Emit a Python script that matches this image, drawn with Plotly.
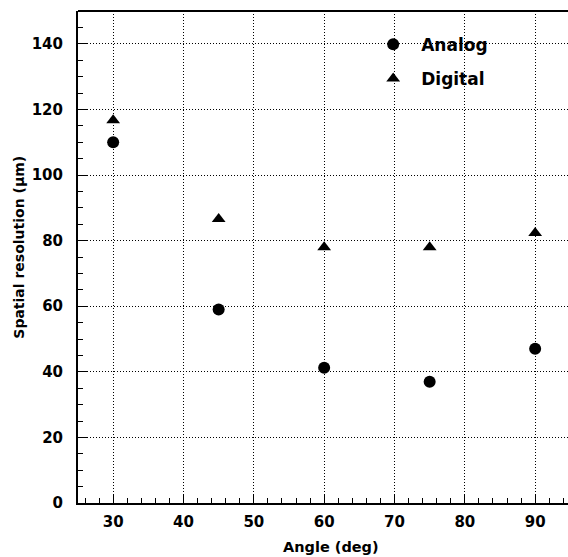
import plotly.graph_objects as go

angles = [30, 45, 60, 75, 90]
analog = [110.0, 59.0, 41.2, 37.0, 47.0]
digital = [116.7, 86.6, 78.0, 78.0, 82.3]

x_range = [25, 94.67]
y_range = [0, 150]

FONT = "DejaVu Sans"

fig = go.Figure()
fig.add_trace(go.Scatter(x=angles, y=analog, mode="markers", name="Analog",
                         legendgroup="a",
                         marker=dict(symbol="circle", size=12, color="black")))
fig.add_trace(go.Scatter(x=angles, y=digital, mode="markers", name="Digital",
                         legendgroup="d",
                         marker=dict(symbol="triangle-up", size=12, color="black")))

axis_common = dict(
    showline=True, linecolor="black", linewidth=2,
    ticks="inside", ticklen=9, tickwidth=1, tickcolor="black",
    showgrid=True, gridcolor="black", gridwidth=1, griddash="1px,2px",
    zeroline=False, mirror=False,
    tickfont=dict(family=FONT, size=15, color="black", weight="bold"),
)

fig.update_xaxes(range=x_range, tickvals=[30, 40, 50, 60, 70, 80, 90],
                 minor=dict(tick0=0, dtick=2, ticks="inside", ticklen=5,
                            tickcolor="black", tickwidth=1, showgrid=False),
                 ticklabelstandoff=4, **axis_common)
fig.update_yaxes(range=y_range, tickvals=[0, 20, 40, 60, 80, 100, 120, 140],
                 minor=dict(tick0=0, dtick=5, ticks="inside", ticklen=5,
                            tickcolor="black", tickwidth=1, showgrid=False),
                 ticklabelstandoff=10, **axis_common)

fig.add_shape(type="line", xref="paper", yref="paper", x0=0, x1=1, y0=1, y1=1,
              line=dict(color="black", width=2))

fig.add_annotation(text="Angle (deg)", xref="paper", yref="paper",
                   x=0.517, y=-0.0894, showarrow=False,
                   xanchor="center", yanchor="middle",
                   font=dict(family=FONT, size=14.5, color="black", weight="bold"))
fig.add_annotation(text="Spatial resolution (μm)", xref="paper", yref="paper",
                   x=-0.1193, y=0.52, showarrow=False, textangle=-90,
                   xanchor="center", yanchor="middle",
                   font=dict(family=FONT, size=14, color="black", weight="bold"))

fig.update_layout(
    width=568, height=557,
    margin=dict(l=77.5, r=0, t=11, b=54),
    paper_bgcolor="white", plot_bgcolor="white",
    showlegend=True,
    legend=dict(x=0.5861, y=0.968, xanchor="left", yanchor="top",
                bgcolor="rgba(0,0,0,0)", borderwidth=0,
                tracegroupgap=9, itemwidth=46,
                font=dict(family=FONT, size=17, color="black", weight="bold")),
)

fig.write_html("out.html", config={"displayModeBar": False},
               post_script="document.body.style.margin='0px';document.body.style.overflow='hidden';")
